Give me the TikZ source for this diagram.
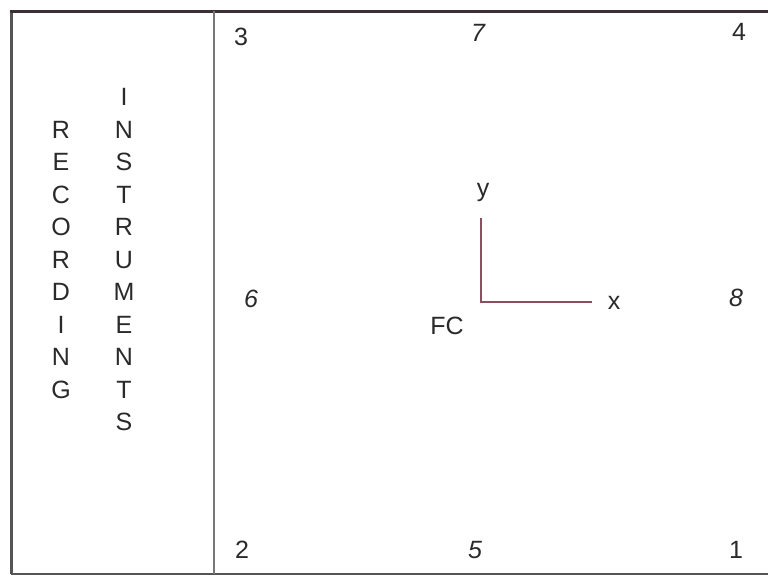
\documentclass[tikz,border=0pt]{standalone}
\usepackage{fontspec}
\setmainfont{Liberation Sans}
\definecolor{txt}{HTML}{2A2A2A}
\definecolor{topline}{HTML}{3A3035}
\definecolor{frame}{HTML}{555555}
\definecolor{axis}{HTML}{8A5060}
\begin{document}
\begin{tikzpicture}[x=1pt,y=-1pt,
  lbl/.style={font=\fontsize{25}{30}\selectfont, text=txt, inner sep=0pt, anchor=base},
  ilbl/.style={lbl, font=\fontsize{25}{30}\selectfont\itshape},
  vlbl/.style={font=\fontsize{25}{32.5}\selectfont, text=txt, inner sep=0pt, anchor=north, align=center},
  frameline/.style={draw=frame, line width=3pt},
  axisline/.style={draw=axis, line width=1.2pt}]
\useasboundingbox (0,0) rectangle (768,576);
% frame
\coordinate (tl) at (11,11);
\coordinate (tr) at (768,11);
\coordinate (bl) at (11,574);
\coordinate (br) at (768,574);
\coordinate (dt) at (214,11);
\coordinate (db) at (214,574);
\draw[frameline] (bl) -- (tl);
\draw[draw=topline, line width=3pt] ([xshift=-1.5pt]tl) -- (tr);
\draw[draw=frame, line width=2pt] (bl) -- (br);
\draw[draw=frame!80, line width=1.2pt] (dt) -- (db);
% vertical words
\node[vlbl] (rec) at (61,121) {R\\E\\C\\O\\R\\D\\I\\N\\G};
\node[vlbl] (ins) at (124,88.5) {I\\N\\S\\T\\R\\U\\M\\E\\N\\T\\S};
% corner numbers
\node[lbl] (n3) at (241,45) {3};
\node[ilbl] (n7) at (478,41) {7};
\node[lbl] (n4) at (739,40) {4};
\node[lbl] (n2) at (242,558) {2};
\node[ilbl] (n5) at (475,558) {5};
\node[lbl] (n1) at (736,558) {1};
\node[ilbl] (n6) at (251,307) {6};
\node[ilbl] (n8) at (736,306) {8};
% axes
\coordinate (o) at (481,302);
\coordinate (ytop) at (481,218);
\coordinate (xend) at (592,302);
\draw[axisline] (ytop) -- (o) -- (xend);
\node[lbl] (ylab) at (483,196) {y};
\node[lbl] (xlab) at (614,309.5) {x};
\node[lbl] (fc) at (447,334) {FC};
\end{tikzpicture}
\end{document}
